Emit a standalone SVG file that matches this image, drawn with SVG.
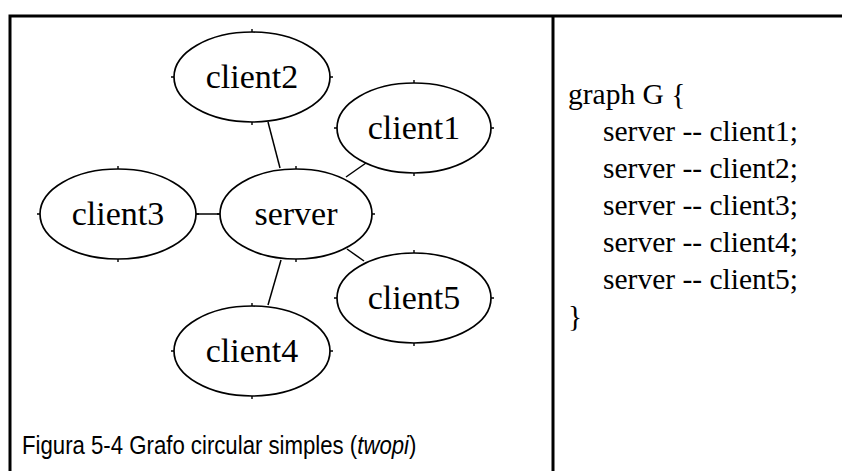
<svg xmlns="http://www.w3.org/2000/svg" width="842" height="471" viewBox="0 0 842 471">
  <style>
    .frame { fill: none; stroke: #000; stroke-width: 3; }
    .node ellipse { fill: #fff; stroke: #000; stroke-width: 1.7; }
    .node text { font-family: "Liberation Serif", "Times New Roman", serif; font-size: 34px; fill: #000; text-anchor: middle; }
    .tick { stroke: #000; stroke-width: 1.4; fill: none; }
    #edges line { stroke: #000; stroke-width: 1.5; }
    .code { font-family: "Liberation Serif", "Times New Roman", serif; font-size: 29.5px; fill: #000; }
    .caption { font-family: "Liberation Sans", Arial, sans-serif; font-size: 22.2px; fill: #000; }
  </style>

  <rect width="842" height="471" fill="#fff"/>

  <!-- table frame -->
  <path class="frame" d="M10,480 V16 H845 M553,16 V480"/>

  <!-- connectors -->
  <g id="edges">
    <line x1="268" y1="122" x2="280" y2="168"/>
    <line x1="346" y1="177" x2="366" y2="163"/>
    <line x1="195" y1="214" x2="220" y2="214"/>
    <line x1="281" y1="260" x2="268" y2="305"/>
    <line x1="347" y1="249" x2="364" y2="261"/>
  </g>

  <!-- nodes -->
  <g id="client2" class="node">
    <ellipse cx="252" cy="77" rx="78" ry="45"/>
    <path class="tick" d="M252,32 v-3 M252,122 v3 M174,77 h-3 M330,77 h3"/>
    <text x="252" y="88">client2</text>
  </g>
  <g id="client1" class="node">
    <ellipse cx="414" cy="128" rx="77" ry="45"/>
    <path class="tick" d="M414,83 v-3 M414,173 v3 M337,128 h-3 M491,128 h3"/>
    <text x="414" y="139">client1</text>
  </g>
  <g id="client3" class="node">
    <ellipse cx="118" cy="214" rx="78" ry="45"/>
    <path class="tick" d="M118,169 v-3 M118,259 v3 M40,214 h-3 M196,214 h3"/>
    <text x="118" y="225">client3</text>
  </g>
  <g id="server" class="node">
    <ellipse cx="296" cy="214" rx="76" ry="45"/>
    <path class="tick" d="M296,169 v-3 M296,259 v3 M220,214 h-3 M372,214 h3"/>
    <text x="296" y="225">server</text>
  </g>
  <g id="client5" class="node">
    <ellipse cx="414" cy="298" rx="77" ry="45"/>
    <path class="tick" d="M414,253 v-3 M414,343 v3 M337,298 h-3 M491,298 h3"/>
    <text x="414" y="309">client5</text>
  </g>
  <g id="client4" class="node">
    <ellipse cx="252" cy="351" rx="78" ry="45"/>
    <path class="tick" d="M252,306 v-3 M252,396 v3 M174,351 h-3 M330,351 h3"/>
    <text x="252" y="362">client4</text>
  </g>

  <!-- caption, slightly tall-set -->
  <text class="caption" transform="translate(22,454) scale(1,1.12)">Figura 5-4 Grafo circular simples (<tspan font-style="italic">twopi</tspan>)</text>

  <!-- source listing -->
  <g class="code">
    <text x="568" y="104">graph G {</text>
    <text x="603" y="141">server -- client1;</text>
    <text x="603" y="178">server -- client2;</text>
    <text x="603" y="215">server -- client3;</text>
    <text x="603" y="252">server -- client4;</text>
    <text x="603" y="289">server -- client5;</text>
    <text x="568" y="326">}</text>
  </g>
</svg>
